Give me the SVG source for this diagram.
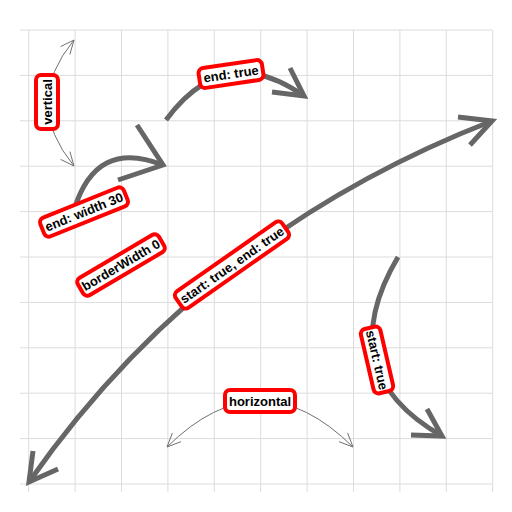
<svg xmlns="http://www.w3.org/2000/svg" width="512" height="512" viewBox="0 0 512 512">
  <style>
    .grid line { stroke: #dcdcdc; stroke-width: 1; }
    .thick { fill: none; stroke: #666666; stroke-width: 5; stroke-linecap: butt; stroke-linejoin: miter; }
    .thin { fill: none; stroke: #707070; stroke-width: 1; stroke-linejoin: miter; }
    .box { fill: #ffffff; stroke: #ff0000; stroke-width: 4; }
    .lbl { font-family: "Liberation Sans", Arial, sans-serif; font-weight: bold; font-size: 13px; fill: #000000; text-anchor: middle; dominant-baseline: central; }
  </style>
  <rect width="512" height="512" fill="#ffffff"/>
  <g id="grid" class="grid">
    <line x1="20" y1="30" x2="492" y2="30"/>
    <line x1="20" y1="75.4" x2="492" y2="75.4"/>
    <line x1="20" y1="120.8" x2="492" y2="120.8"/>
    <line x1="20" y1="166.2" x2="492" y2="166.2"/>
    <line x1="20" y1="211.6" x2="492" y2="211.6"/>
    <line x1="20" y1="257" x2="492" y2="257"/>
    <line x1="20" y1="302.4" x2="492" y2="302.4"/>
    <line x1="20" y1="347.8" x2="492" y2="347.8"/>
    <line x1="20" y1="393.2" x2="492" y2="393.2"/>
    <line x1="20" y1="438.6" x2="492" y2="438.6"/>
    <line x1="20" y1="484" x2="492" y2="484"/>
    <line x1="28.7" y1="30" x2="28.7" y2="492"/>
    <line x1="75.1" y1="30" x2="75.1" y2="492"/>
    <line x1="121.5" y1="30" x2="121.5" y2="492"/>
    <line x1="167.9" y1="30" x2="167.9" y2="492"/>
    <line x1="214.3" y1="30" x2="214.3" y2="492"/>
    <line x1="260.7" y1="30" x2="260.7" y2="492"/>
    <line x1="307.1" y1="30" x2="307.1" y2="492"/>
    <line x1="353.5" y1="30" x2="353.5" y2="492"/>
    <line x1="399.9" y1="30" x2="399.9" y2="492"/>
    <line x1="446.3" y1="30" x2="446.3" y2="492"/>
    <line x1="492.7" y1="30" x2="492.7" y2="492"/>
  </g>
  <g id="connectors">
    <!-- vertical -->
    <path class="thin" d="M74,166 Q22,103 74,40"/>
    <polyline class="thin" points="60.6,46.6 74,40 69.9,54.4"/>
    <polyline class="thin" points="60.6,159.4 74,166 69.9,151.6"/>
    <!-- end: width 30 -->
    <path class="thick" d="M74,210 Q96,138 163,165"/>
    <polyline class="thick" points="137,125 163,165 118,180"/>
    <!-- end: true -->
    <path class="thick" d="M166,120 Q225,40 304,96"/>
    <polyline class="thick" points="290,68 304,96 272,92"/>
    <!-- start: true, end: true -->
    <path class="thick" d="M29,482 Q203,233 492,121"/>
    <polyline class="thick" points="458,117 492,121 470,145"/>
    <polyline class="thick" points="33,451 29,482 58,469"/>
    <!-- start: true -->
    <path class="thick" d="M398,257 Q330,372 442,436"/>
    <polyline class="thick" points="427,409 442,436 411,435"/>
    <!-- horizontal -->
    <path class="thin" d="M167,447 Q260,355 353,447"/>
    <polyline class="thin" points="339,441.7 353,447 347.6,433"/>
    <polyline class="thin" points="172.4,433 167,447 181,441.7"/>
  </g>
  <g id="label-vertical" transform="translate(47,102) rotate(-90)">
    <rect class="box" x="-27" y="-11" width="54" height="22" rx="5"/>
    <text class="lbl" x="0" y="0">vertical</text>
  </g>
  <g id="label-end-width-30" transform="translate(84,212) rotate(-22)">
    <rect class="box" x="-45" y="-10" width="90" height="20" rx="5"/>
    <text class="lbl" x="0" y="0">end: width 30</text>
  </g>
  <g id="label-borderWidth-0" transform="translate(121,265) rotate(-30.5)">
    <rect class="box" x="-47" y="-10" width="94" height="20" rx="5"/>
    <text class="lbl" x="0" y="0">borderWidth 0</text>
  </g>
  <g id="label-start-end" transform="translate(232,265) rotate(-35)">
    <rect class="box" x="-65" y="-10" width="130" height="20" rx="5"/>
    <text class="lbl" x="0" y="0">start: true, end: true</text>
  </g>
  <g id="label-end-true" transform="translate(231,74) rotate(-8.5)">
    <rect class="box" x="-32" y="-10" width="64" height="20" rx="5"/>
    <text class="lbl" x="0" y="0">end: true</text>
  </g>
  <g id="label-start-true" transform="translate(377,360) rotate(77)">
    <rect class="box" x="-33" y="-10" width="66" height="20" rx="5"/>
    <text class="lbl" x="0" y="0">start: true</text>
  </g>
  <g id="label-horizontal" transform="translate(260,401)">
    <rect class="box" x="-35" y="-11" width="70" height="22" rx="5"/>
    <text class="lbl" x="0" y="0">horizontal</text>
  </g>
</svg>
